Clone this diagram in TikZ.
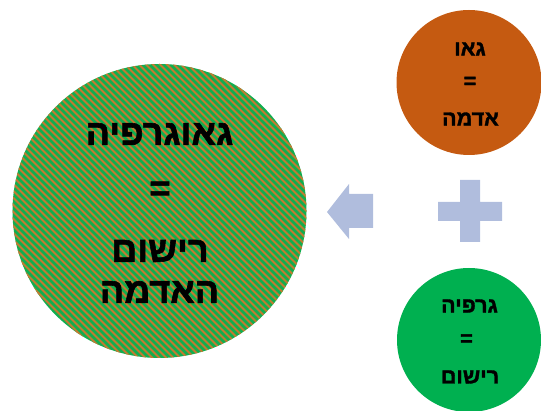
\documentclass[tikz,border=0pt]{standalone}
\usepackage{fontspec}
\setmainfont{Liberation Sans}
\newfontfamily\hebfont[Script=Hebrew,BoldFeatures={FakeBold=1.6}]{Liberation Sans}
\TeXXeTstate=1
\definecolor{orangefill}{HTML}{C55A11}
\definecolor{greenfill}{HTML}{00B050}
\definecolor{stripeorange}{HTML}{C47A30}
\definecolor{stripegreen}{HTML}{10AE50}
\definecolor{shapeblue}{HTML}{B0BDDD}
\newcommand{\heb}[1]{{\hebfont\bfseries\beginR #1\endR}}
\tikzset{x=1pt,y=-1pt,
  disc/.style={circle,inner sep=0pt,draw=none},
  bigtext/.style={font=\fontsize{36}{36}\selectfont,inner sep=0pt,text=black},
  smalltext/.style={font=\fontsize{21.5}{22}\selectfont,inner sep=0pt,text=black},
  glyph/.style={fill=shapeblue,draw=none}}
\begin{document}
\begin{tikzpicture}
\useasboundingbox (0,0) rectangle (541,411);
% big hatched disc
\node[disc,minimum size=294pt,fill=stripegreen] (big) at (159.5,211) {};
\begin{scope}
\clip (159.5,211) circle (147);
\foreach \k in {-50,...,50}{
  \draw[stripeorange,line width=2pt] ({159.5+\k*7-200},11) -- ({159.5+\k*7+200},411);
}
\end{scope}
\node[bigtext] (t1) at (159.5,134) {\heb{גאוגרפיה}};
\node[bigtext] (t2) at (160,191) {\heb{=}};
\node[bigtext] (t3) at (160,251) {\heb{רישום}};
\node[bigtext] (t4) at (159.5,292) {\heb{האדמה}};
% top disc
\node[disc,minimum size=145pt,fill=orangefill] (geo) at (469,82.5) {};
\node[smalltext] (a1) at (470,49) {\heb{גאו}};
\node[smalltext] (a2) at (470,82.5) {\heb{=}};
\node[smalltext] (a3) at (470.5,119) {\heb{אדמה}};
% bottom disc
\node[disc,minimum size=144pt,fill=greenfill] (graf) at (469,340) {};
\node[smalltext] (b1) at (469.5,306) {\heb{גרפיה}};
\node[smalltext] (b2) at (466.5,340) {\heb{=}};
\node[smalltext] (b3) at (470,377) {\heb{רישום}};
% arrow and plus
\fill[glyph] (327,212) -- (349,184) -- (349,194) -- (373,194) -- (373,228) -- (349,228) -- (349,239) -- cycle;
\fill[glyph] (460,180) -- (480,180) -- (480,202) -- (502,202) -- (502,221) -- (480,221) -- (480,242) -- (460,242) -- (460,221) -- (438,221) -- (438,202) -- (460,202) -- cycle;
\end{tikzpicture}
\end{document}
